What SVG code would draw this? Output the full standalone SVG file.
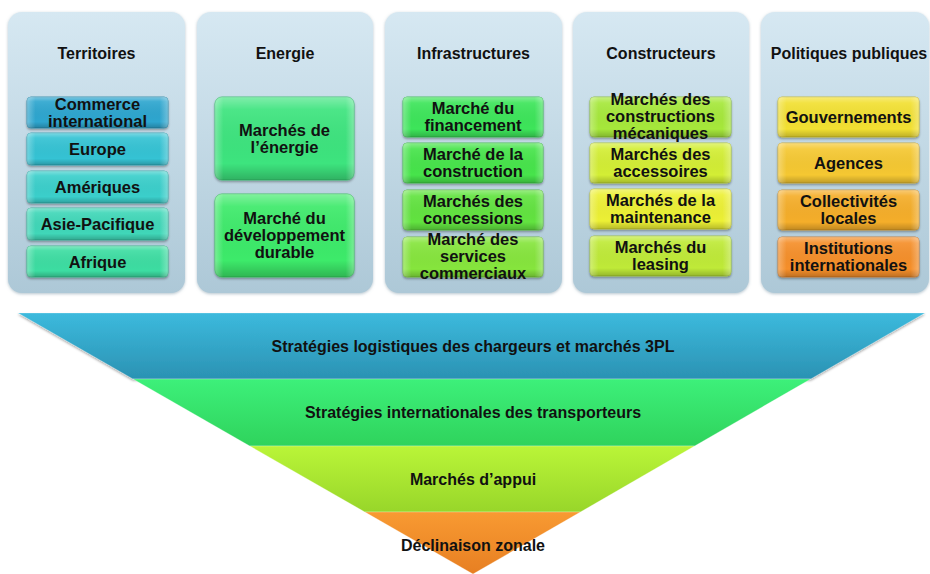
<svg xmlns="http://www.w3.org/2000/svg" width="930" height="574" viewBox="0 0 930 574">
<defs>
  <linearGradient id="panelG" x1="0" y1="0" x2="0" y2="1">
    <stop offset="0" stop-color="#d6e8f2"/>
    <stop offset="1" stop-color="#adc8d7"/>
  </linearGradient>
  <linearGradient id="shineV" x1="0" y1="0" x2="0" y2="1">
    <stop offset="0" stop-color="#fff" stop-opacity="0.35"/>
    <stop offset="0.15" stop-color="#fff" stop-opacity="0.08"/>
    <stop offset="0.8" stop-color="#000" stop-opacity="0"/>
    <stop offset="1" stop-color="#000" stop-opacity="0.22"/>
  </linearGradient>
  <linearGradient id="shineH" x1="0" y1="0" x2="1" y2="0">
    <stop offset="0" stop-color="#fff" stop-opacity="0.3"/>
    <stop offset="0.06" stop-color="#fff" stop-opacity="0"/>
    <stop offset="0.94" stop-color="#fff" stop-opacity="0"/>
    <stop offset="1" stop-color="#fff" stop-opacity="0.3"/>
  </linearGradient>
  <linearGradient id="b1" x1="0" y1="0" x2="0" y2="1"><stop offset="0" stop-color="#3cbadd"/><stop offset="1" stop-color="#2b92b3"/></linearGradient>
  <linearGradient id="b2" x1="0" y1="0" x2="0" y2="1"><stop offset="0" stop-color="#3df07a"/><stop offset="1" stop-color="#2fd35c"/></linearGradient>
  <linearGradient id="b3" x1="0" y1="0" x2="0" y2="1"><stop offset="0" stop-color="#baf538"/><stop offset="1" stop-color="#98d62a"/></linearGradient>
  <linearGradient id="b4" x1="0" y1="0" x2="0" y2="1"><stop offset="0" stop-color="#f89a32"/><stop offset="1" stop-color="#e77f22"/></linearGradient>
  <filter id="sh" x="-10%" y="-10%" width="120%" height="130%">
    <feDropShadow dx="0" dy="1.5" stdDeviation="1.2" flood-color="#000" flood-opacity="0.35"/>
  </filter>
  <filter id="psh" x="-10%" y="-10%" width="120%" height="120%">
    <feDropShadow dx="0" dy="1" stdDeviation="1.5" flood-color="#6a8a9c" flood-opacity="0.5"/>
  </filter>
</defs>
<style>
  .panel { fill: url(#panelG); filter: url(#psh); }
  .box { filter: url(#sh); stroke-width: 0.8; }
  .sv { fill: url(#shineV); }
  .sh { fill: url(#shineH); }
  text { font-family: "Liberation Sans", Arial, sans-serif; font-weight: bold; fill: #111; text-anchor: middle; }
  .t { font-size: 16px; }
  .b { font-size: 16.5px; }
  .f { font-size: 16px; }
  .band { stroke: #ffffff; stroke-opacity: 0.25; stroke-width: 1; }
</style>

<g id="panels">
  <rect class="panel" x="8" y="12" width="177" height="281" rx="14"/>
  <rect class="panel" x="197" y="12" width="176" height="281" rx="14"/>
  <rect class="panel" x="385" y="12" width="177" height="281" rx="14"/>
  <rect class="panel" x="573" y="12" width="176" height="281" rx="14"/>
  <rect class="panel" x="761" y="12" width="168" height="281" rx="14"/>
</g>

<g id="territoires">
  <text class="t" x="96.5" y="59">Territoires</text>
  <g id="t-commerce"><rect class="box" x="27" y="97" width="141" height="31" rx="4" fill="#2ea6cf" stroke="#2588a9"/><rect class="sv" x="27" y="97" width="141" height="31" rx="4"/><rect class="sh" x="27" y="97" width="141" height="31" rx="4"/>
    <text class="b" x="97.5" y="109.5">Commerce</text><text class="b" x="97.5" y="126.5">international</text></g>
  <g id="t-europe"><rect class="box" x="27" y="133" width="141" height="32" rx="4" fill="#34c3d4" stroke="#2aa0ae"/><rect class="sv" x="27" y="133" width="141" height="32" rx="4"/><rect class="sh" x="27" y="133" width="141" height="32" rx="4"/>
    <text class="b" x="97.5" y="155">Europe</text></g>
  <g id="t-ameriques"><rect class="box" x="27" y="171" width="141" height="32" rx="4" fill="#3bcfcb" stroke="#30aaa6"/><rect class="sv" x="27" y="171" width="141" height="32" rx="4"/><rect class="sh" x="27" y="171" width="141" height="32" rx="4"/>
    <text class="b" x="97.5" y="193">Amériques</text></g>
  <g id="t-asie"><rect class="box" x="27" y="208" width="141" height="32" rx="4" fill="#3fd7b8" stroke="#33b096"/><rect class="sv" x="27" y="208" width="141" height="32" rx="4"/><rect class="sh" x="27" y="208" width="141" height="32" rx="4"/>
    <text class="b" x="97.5" y="230">Asie-Pacifique</text></g>
  <g id="t-afrique"><rect class="box" x="27" y="246" width="141" height="31" rx="4" fill="#3edda2" stroke="#33b584"/><rect class="sv" x="27" y="246" width="141" height="31" rx="4"/><rect class="sh" x="27" y="246" width="141" height="31" rx="4"/>
    <text class="b" x="97.5" y="267.5">Afrique</text></g>
</g>

<g id="energie">
  <text class="t" x="285" y="59">Energie</text>
  <g id="e-energie"><rect class="box" x="215" y="97" width="139" height="83" rx="7" fill="#3de47e" stroke="#32bb67"/><rect class="sv" x="215" y="97" width="139" height="83" rx="7"/><rect class="sh" x="215" y="97" width="139" height="83" rx="7"/>
    <text class="b" x="284.5" y="135.5">Marchés de</text><text class="b" x="284.5" y="152.5">l’énergie</text></g>
  <g id="e-durable"><rect class="box" x="215" y="194" width="139" height="83" rx="7" fill="#3eea6a" stroke="#32c056"/><rect class="sv" x="215" y="194" width="139" height="83" rx="7"/><rect class="sh" x="215" y="194" width="139" height="83" rx="7"/>
    <text class="b" x="284.5" y="223.5">Marché du</text><text class="b" x="284.5" y="240.5">développement</text><text class="b" x="284.5" y="257.5">durable</text></g>
</g>

<g id="infrastructures">
  <text class="t" x="473.5" y="59">Infrastructures</text>
  <g id="i-fin"><rect class="box" x="403" y="97" width="140" height="40" rx="4" fill="#3ee55a" stroke="#33bb4a"/><rect class="sv" x="403" y="97" width="140" height="40" rx="4"/><rect class="sh" x="403" y="97" width="140" height="40" rx="4"/>
    <text class="b" x="473" y="114">Marché du</text><text class="b" x="473" y="131">financement</text></g>
  <g id="i-cons"><rect class="box" x="403" y="143" width="140" height="40" rx="4" fill="#46e44b" stroke="#39ba3d"/><rect class="sv" x="403" y="143" width="140" height="40" rx="4"/><rect class="sh" x="403" y="143" width="140" height="40" rx="4"/>
    <text class="b" x="473" y="160">Marché de la</text><text class="b" x="473" y="177">construction</text></g>
  <g id="i-conc"><rect class="box" x="403" y="190" width="140" height="40" rx="4" fill="#62e33f" stroke="#50ba33"/><rect class="sv" x="403" y="190" width="140" height="40" rx="4"/><rect class="sh" x="403" y="190" width="140" height="40" rx="4"/>
    <text class="b" x="473" y="207">Marchés des</text><text class="b" x="473" y="224">concessions</text></g>
  <g id="i-serv"><rect class="box" x="403" y="237" width="140" height="40" rx="4" fill="#86e53c" stroke="#6dbb31"/><rect class="sv" x="403" y="237" width="140" height="40" rx="4"/><rect class="sh" x="403" y="237" width="140" height="40" rx="4"/>
    <text class="b" x="473" y="245">Marché des</text><text class="b" x="473" y="262">services</text><text class="b" x="473" y="279">commerciaux</text></g>
</g>

<g id="constructeurs">
  <text class="t" x="661" y="59">Constructeurs</text>
  <g id="c-meca"><rect class="box" x="590" y="97" width="141" height="40" rx="4" fill="#a6e83a" stroke="#88bd30"/><rect class="sv" x="590" y="97" width="141" height="40" rx="4"/><rect class="sh" x="590" y="97" width="141" height="40" rx="4"/>
    <text class="b" x="660.5" y="105">Marchés des</text><text class="b" x="660.5" y="122">constructions</text><text class="b" x="660.5" y="139">mécaniques</text></g>
  <g id="c-acc"><rect class="box" x="590" y="143" width="141" height="40" rx="4" fill="#d3ee36" stroke="#adc42c"/><rect class="sv" x="590" y="143" width="141" height="40" rx="4"/><rect class="sh" x="590" y="143" width="141" height="40" rx="4"/>
    <text class="b" x="660.5" y="160">Marchés des</text><text class="b" x="660.5" y="177">accessoires</text></g>
  <g id="c-maint"><rect class="box" x="590" y="189" width="141" height="40" rx="4" fill="#ecf034" stroke="#c2c52a"/><rect class="sv" x="590" y="189" width="141" height="40" rx="4"/><rect class="sh" x="590" y="189" width="141" height="40" rx="4"/>
    <text class="b" x="660.5" y="206">Marchés de la</text><text class="b" x="660.5" y="223">maintenance</text></g>
  <g id="c-leasing"><rect class="box" x="590" y="236" width="141" height="40" rx="4" fill="#bfea38" stroke="#9dc02e"/><rect class="sv" x="590" y="236" width="141" height="40" rx="4"/><rect class="sh" x="590" y="236" width="141" height="40" rx="4"/>
    <text class="b" x="660.5" y="253">Marchés du</text><text class="b" x="660.5" y="270">leasing</text></g>
</g>

<g id="politiques">
  <text class="t" x="849" y="59">Politiques publiques</text>
  <g id="p-gouv"><rect class="box" x="778" y="97" width="141" height="40" rx="4" fill="#f2e030" stroke="#c7b826"/><rect class="sv" x="778" y="97" width="141" height="40" rx="4"/><rect class="sh" x="778" y="97" width="141" height="40" rx="4"/>
    <text class="b" x="848.5" y="123">Gouvernements</text></g>
  <g id="p-agences"><rect class="box" x="778" y="143" width="141" height="40" rx="4" fill="#f5c832" stroke="#c9a428"/><rect class="sv" x="778" y="143" width="141" height="40" rx="4"/><rect class="sh" x="778" y="143" width="141" height="40" rx="4"/>
    <text class="b" x="848.5" y="169">Agences</text></g>
  <g id="p-coll"><rect class="box" x="778" y="190" width="141" height="40" rx="4" fill="#f5ae2c" stroke="#c98e24"/><rect class="sv" x="778" y="190" width="141" height="40" rx="4"/><rect class="sh" x="778" y="190" width="141" height="40" rx="4"/>
    <text class="b" x="848.5" y="207">Collectivités</text><text class="b" x="848.5" y="224">locales</text></g>
  <g id="p-inst"><rect class="box" x="778" y="237" width="141" height="40" rx="4" fill="#f58f2c" stroke="#c97424"/><rect class="sv" x="778" y="237" width="141" height="40" rx="4"/><rect class="sh" x="778" y="237" width="141" height="40" rx="4"/>
    <text class="b" x="848.5" y="254">Institutions</text><text class="b" x="848.5" y="271">internationales</text></g>
</g>

<g id="funnel">
  <g id="band1"><polygon class="band" points="18,313 925,313 810.7,379 133,379" fill="url(#b1)" filter="url(#sh)"/>
    <text class="f" x="473" y="352">Stratégies logistiques des chargeurs et marchés 3PL</text></g>
  <g id="band2"><polygon class="band" points="133,379 810.7,379 694.6,446 249.8,446" fill="url(#b2)"/>
    <text class="f" x="473" y="418">Stratégies internationales des transporteurs</text></g>
  <g id="band3"><polygon class="band" points="249.8,446 694.6,446 580.4,512 364.9,512" fill="url(#b3)"/>
    <text class="f" x="473" y="485">Marchés d’appui</text></g>
  <g id="band4"><polygon class="band" points="364.9,512 580.4,512 473,574" fill="url(#b4)"/>
    <text class="f" x="473" y="551">Déclinaison zonale</text></g>
</g>
</svg>
